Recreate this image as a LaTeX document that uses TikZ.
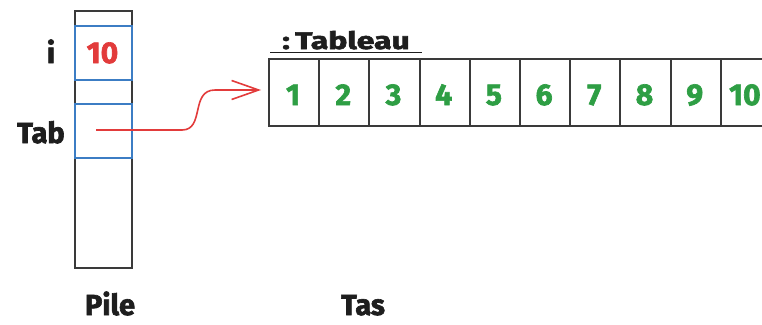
\documentclass[tikz,border=0pt]{standalone}
\usepackage{fontspec}
\usepackage{graphicx}
\setmainfont{Fira Sans}[BoldFeatures={FakeBold=2.2}]
\usetikzlibrary{arrows.meta}
\definecolor{ink}{HTML}{1E1E1E}
\definecolor{boxline}{HTML}{3A3A3A}
\definecolor{cellblue}{HTML}{3C7DC4}
\definecolor{ptrred}{HTML}{E23B3B}
\definecolor{valgreen}{HTML}{2E9E44}
\tikzset{
  lbl/.style={font=\fontsize{29}{30}\selectfont\bfseries, text=ink, anchor=base, inner sep=0pt},
  stackbox/.style={draw=boxline, line width=1.9pt, minimum width=57pt, minimum height=257pt, anchor=north west, inner sep=0pt},
  varbox/.style={draw=cellblue, line width=1.7pt, minimum width=57pt, minimum height=54pt, anchor=north west, inner sep=0pt},
  cellbox/.style={draw=boxline, line width=1.9pt, minimum width=50.2pt, minimum height=67pt, anchor=north west, inner sep=0pt},
  val/.style={font=\fontsize{30}{30}\selectfont\bfseries, anchor=base, inner sep=0pt},
}
\begin{document}
\begin{tikzpicture}[x=1pt,y=-1pt]
\useasboundingbox (0,0) rectangle (762,324);
\clip (0,0) rectangle (762,324);
% stack
\node[stackbox] (pile) at (74,10) {};
\node[varbox] (ibox) at (74,25) {};
\node[varbox] (tabbox) at (74,103) {};
\node[lbl] (ilbl) at (51,63) {i};
\node[lbl] (tablbl) at (41,143) {Tab};
\node[val, text=ptrred] (ival) at (102.5,63) {10};
\node[lbl] (pilelbl) at (110,315) {Pile};
\node[lbl] (taslbl) at (363,315) {Tas};
% heap array
\foreach \k in {1,...,10}{
  \node[cellbox] (cell\k) at ({268+(\k-1)*50.2},58) {};
  \node[val, text=valgreen] (v\k) at ({268+(\k-0.5)*50.2},105) {\k};
}
\node[font=\fontsize{24}{25}\selectfont\bfseries, text=ink, anchor=base, inner sep=0pt] (tabname) at (346,49) {\scalebox{1.33}[1]{:\,Tableau}};
\coordinate (ulL) at (270,52.5);
\coordinate (ulR) at (422,52.5);
\draw[ink, line width=1.9pt] (ulL) -- (ulR);
% pointer
\coordinate (pstart) at (96,130);
\coordinate (ptip) at (261,90);
\draw[ptrred, line width=1.6pt, -{Straight Barb[length=27pt,width=19pt,line width=1.6pt]}]
  (pstart) -- (182,130) .. controls (205,130) and (190,90) .. (215,90) -- (ptip);
\end{tikzpicture}
\end{document}
